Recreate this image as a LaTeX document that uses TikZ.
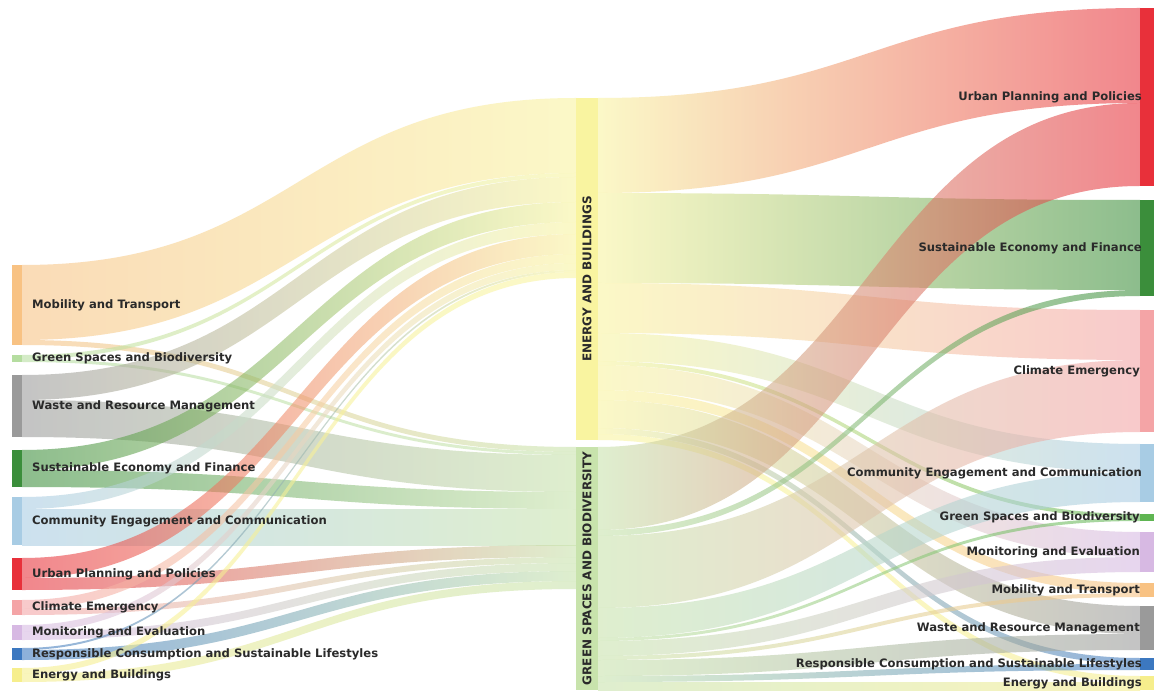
\documentclass[tikz,border=0pt]{standalone}
\usepackage{fontspec}
\setmainfont{DejaVu Sans}
\usetikzlibrary{calc}
\definecolor{cUP}{HTML}{E8303A}
\definecolor{cSE}{HTML}{3B8E3B}
\definecolor{cCE}{HTML}{F4A4A6}
\definecolor{cCEC}{HTML}{A8CCE4}
\definecolor{cGS}{HTML}{5FB552}
\definecolor{cGSl}{HTML}{B5DDA0}
\definecolor{cME}{HTML}{D7B9E3}
\definecolor{cMT}{HTML}{F8C283}
\definecolor{cWR}{HTML}{9A9A9A}
\definecolor{cRC}{HTML}{3C78C0}
\definecolor{cEB}{HTML}{F6EE8C}
\definecolor{cMEB}{HTML}{F9F4A0}
\definecolor{cMGS}{HTML}{C8E3AC}
\definecolor{labc}{HTML}{2A2A2A}
\tikzset{
  barst/.style={inner sep=0pt, outer sep=0pt, draw=none, anchor=north west},
  lab/.style={font=\fontsize{11.6}{12}\selectfont\bfseries, text=labc, inner sep=0pt},
  midlab/.style={font=\fontsize{12}{13}\selectfont\bfseries, text=labc, inner sep=0pt, rotate=90},
  linkst/.style={fill opacity=0.58}
}
% #1 source node, #2 source offset, #3 target node, #4 target offset, #5 width, #6 source colour, #7 target colour
\newcommand\band[7]{%
  \path[linkst, left color=#6, right color=#7]
    let \p1=(#1.north east), \p2=(#3.north west),
        \p3=($(#1.north east)!.5!(#3.north west)$) in
    (\x1,\y1-#2pt) .. controls (\x3,\y1-#2pt) and (\x3,\y2-#4pt) .. (\x2,\y2-#4pt)
    -- (\x2,\y2-#4pt-#5pt) .. controls (\x3,\y2-#4pt-#5pt) and (\x3,\y1-#2pt-#5pt) .. (\x1,\y1-#2pt-#5pt)
    -- cycle;}
\begin{document}
\begin{tikzpicture}[x=1pt,y=-1pt]
\useasboundingbox[fill=white] (0,0) rectangle (1154,692);
% ---- nodes (bars) ----
\node[barst, fill=cMT, minimum width=10pt, minimum height=80pt] (Lmob) at (12,265) {};
\node[barst, fill=cGSl, minimum width=10pt, minimum height=7pt] (Lgs) at (12,355) {};
\node[barst, fill=cWR, minimum width=10pt, minimum height=62pt] (Lwr) at (12,375) {};
\node[barst, fill=cSE, minimum width=10pt, minimum height=37pt] (Lse) at (12,450) {};
\node[barst, fill=cCEC, minimum width=10pt, minimum height=48pt] (Lcec) at (12,497) {};
\node[barst, fill=cUP, minimum width=10pt, minimum height=32pt] (Lup) at (12,558) {};
\node[barst, fill=cCE, minimum width=10pt, minimum height=15pt] (Lce) at (12,600) {};
\node[barst, fill=cME, minimum width=10pt, minimum height=15pt] (Lme) at (12,625) {};
\node[barst, fill=cRC, minimum width=10pt, minimum height=12pt] (Lrc) at (12,648) {};
\node[barst, fill=cEB, minimum width=10pt, minimum height=14pt] (Leb) at (12,668) {};
\node[barst, fill=cMEB, minimum width=22pt, minimum height=342pt] (Meb) at (576,98) {};
\node[barst, fill=cMGS, minimum width=22pt, minimum height=243pt] (Mgs) at (576,447) {};
\node[barst, fill=cUP, minimum width=14pt, minimum height=178pt] (Rup) at (1140,8) {};
\node[barst, fill=cSE, minimum width=14pt, minimum height=96pt] (Rse) at (1140,200) {};
\node[barst, fill=cCE, minimum width=14pt, minimum height=122pt] (Rce) at (1140,310) {};
\node[barst, fill=cCEC, minimum width=14pt, minimum height=58pt] (Rcec) at (1140,444) {};
\node[barst, fill=cGS, minimum width=14pt, minimum height=7pt] (Rgs) at (1140,514) {};
\node[barst, fill=cME, minimum width=14pt, minimum height=40pt] (Rme) at (1140,532) {};
\node[barst, fill=cMT, minimum width=14pt, minimum height=14pt] (Rmt) at (1140,583) {};
\node[barst, fill=cWR, minimum width=14pt, minimum height=44pt] (Rwr) at (1140,606) {};
\node[barst, fill=cRC, minimum width=14pt, minimum height=12pt] (Rrc) at (1140,658) {};
\node[barst, fill=cEB, minimum width=14pt, minimum height=14pt] (Reb) at (1140,676) {};
% ---- links left -> middle ----
\band{Lmob}{0}{Meb}{0}{75}{cMT}{cMEB}
\band{Lmob}{75}{Mgs}{0}{5}{cMT}{cMGS}
\band{Lgs}{0}{Meb}{75}{4}{cGSl}{cMEB}
\band{Lgs}{4}{Mgs}{5}{3}{cGSl}{cMGS}
\band{Lwr}{0}{Meb}{79}{25}{cWR}{cMEB}
\band{Lwr}{25}{Mgs}{8}{37}{cWR}{cMGS}
\band{Lse}{0}{Meb}{104}{20}{cSE}{cMEB}
\band{Lse}{20}{Mgs}{45}{17}{cSE}{cMGS}
\band{Lcec}{0}{Meb}{124}{12}{cCEC}{cMEB}
\band{Lcec}{12}{Mgs}{62}{36}{cCEC}{cMGS}
\band{Lup}{0}{Meb}{136}{20}{cUP}{cMEB}
\band{Lup}{20}{Mgs}{98}{12}{cUP}{cMGS}
\band{Lce}{0}{Meb}{156}{9}{cCE}{cMEB}
\band{Lce}{9}{Mgs}{110}{6}{cCE}{cMGS}
\band{Lme}{0}{Meb}{165}{7}{cME}{cMEB}
\band{Lme}{7}{Mgs}{116}{8}{cME}{cMGS}
\band{Lrc}{0}{Meb}{172}{2}{cRC}{cMEB}
\band{Lrc}{2}{Mgs}{124}{10}{cRC}{cMGS}
\band{Leb}{0}{Meb}{174}{6}{cEB}{cMEB}
\band{Leb}{6}{Mgs}{134}{8}{cEB}{cMGS}
% ---- links middle -> right ----
\band{Meb}{0}{Rup}{0}{95}{cMEB}{cUP}
\band{Meb}{95}{Rse}{0}{90}{cMEB}{cSE}
\band{Meb}{185}{Rce}{0}{50}{cMEB}{cCE}
\band{Meb}{235}{Rcec}{0}{28}{cMEB}{cCEC}
\band{Meb}{263}{Rgs}{0}{4}{cMEB}{cGS}
\band{Meb}{267}{Rme}{0}{25}{cMEB}{cME}
\band{Meb}{292}{Rmt}{0}{10}{cMEB}{cMT}
\band{Meb}{302}{Rwr}{0}{28}{cMEB}{cWR}
\band{Meb}{330}{Rrc}{0}{6}{cMEB}{cRC}
\band{Meb}{336}{Reb}{0}{6}{cMEB}{cEB}
\band{Mgs}{0}{Rup}{95}{83}{cMGS}{cUP}
\band{Mgs}{83}{Rse}{90}{6}{cMGS}{cSE}
\band{Mgs}{89}{Rce}{50}{72}{cMGS}{cCE}
\band{Mgs}{161}{Rcec}{28}{30}{cMGS}{cCEC}
\band{Mgs}{191}{Rgs}{4}{3}{cMGS}{cGS}
\band{Mgs}{194}{Rme}{25}{15}{cMGS}{cME}
\band{Mgs}{209}{Rmt}{10}{4}{cMGS}{cMT}
\band{Mgs}{213}{Rwr}{28}{16}{cMGS}{cWR}
\band{Mgs}{229}{Rrc}{6}{6}{cMGS}{cRC}
\band{Mgs}{235}{Reb}{6}{8}{cMGS}{cEB}
% ---- labels ----
\node[lab, anchor=west] (tLmob) at ([xshift=10pt]Lmob.east) {Mobility and Transport};
\node[lab, anchor=west] (tLgs) at ([xshift=10pt]Lgs.east) {Green Spaces and Biodiversity};
\node[lab, anchor=west] (tLwr) at ([xshift=10pt]Lwr.east) {Waste and Resource Management};
\node[lab, anchor=west] (tLse) at ([xshift=10pt]Lse.east) {Sustainable Economy and Finance};
\node[lab, anchor=west] (tLcec) at ([xshift=10pt]Lcec.east) {Community Engagement and Communication};
\node[lab, anchor=west] (tLup) at ([xshift=10pt]Lup.east) {Urban Planning and Policies};
\node[lab, anchor=west] (tLce) at ([xshift=10pt]Lce.east) {Climate Emergency};
\node[lab, anchor=west] (tLme) at ([xshift=10pt]Lme.east) {Monitoring and Evaluation};
\node[lab, anchor=west] (tLrc) at ([xshift=10pt]Lrc.east) {Responsible Consumption and Sustainable Lifestyles};
\node[lab, anchor=west] (tLeb) at ([xshift=10pt]Leb.east) {Energy and Buildings};
\node[midlab] (tMeb) at ([yshift=-10pt]Meb.center) {ENERGY AND BUILDINGS};
\node[midlab] (tMgs) at (Mgs.center) {GREEN SPACES AND BIODIVERSITY};
\node[lab, anchor=east] (tRup) at ([xshift=2pt]Rup.west) {Urban Planning and Policies};
\node[lab, anchor=east] (tRse) at ([xshift=2pt]Rse.west) {Sustainable Economy and Finance};
\node[lab, anchor=east] (tRce) at ([xshift=0pt]Rce.west) {Climate Emergency};
\node[lab, anchor=east] (tRcec) at ([xshift=2pt]Rcec.west) {Community Engagement and Communication};
\node[lab, anchor=east] (tRgs) at ([xshift=0pt]Rgs.west) {Green Spaces and Biodiversity};
\node[lab, anchor=east] (tRme) at ([xshift=0pt]Rme.west) {Monitoring and Evaluation};
\node[lab, anchor=east] (tRmt) at ([xshift=0pt]Rmt.west) {Mobility and Transport};
\node[lab, anchor=east] (tRwr) at ([xshift=0pt]Rwr.west) {Waste and Resource Management};
\node[lab, anchor=east] (tRrc) at ([xshift=2pt]Rrc.west) {Responsible Consumption and Sustainable Lifestyles};
\node[lab, anchor=east] (tReb) at ([xshift=2pt]Reb.west) {Energy and Buildings};
\end{tikzpicture}
\end{document}
